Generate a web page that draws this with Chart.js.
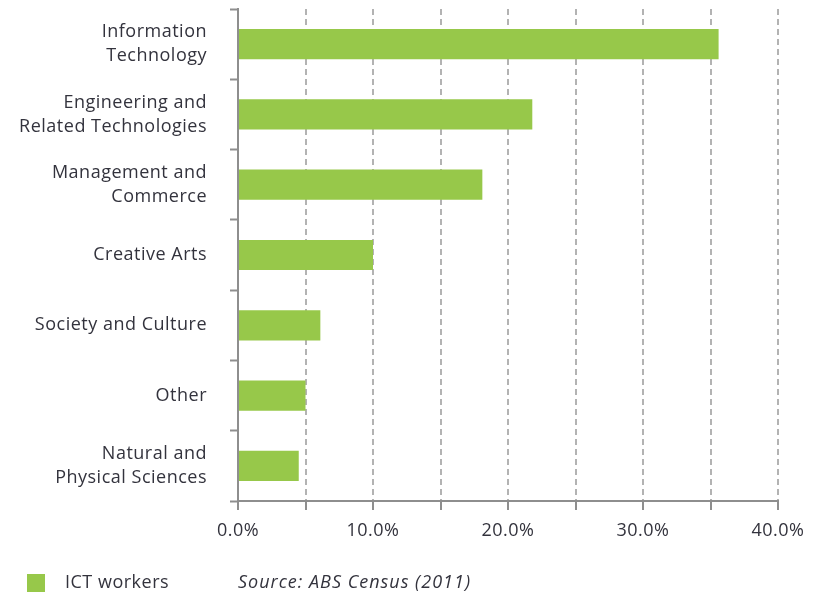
<!DOCTYPE html>
<html>
<head>
<meta charset="utf-8">
<script src="https://cdn.jsdelivr.net/npm/chart.js@4/dist/chart.umd.min.js"></script>
<style>
  html, body { margin: 0; padding: 0; background: #fff; }
  #wrap { width: 826px; height: 596px; position: relative; }
</style>
</head>
<body>
<div id="wrap"><canvas id="ictChart"></canvas></div>
<script>
// fields of study, top to bottom
let fields = [
    ['Information', 'Technology'],
    ['Engineering and', 'Related Technologies'],
    ['Management and', 'Commerce'],
    'Creative Arts',
    'Society and Culture',
    'Other',
    ['Natural and', 'Physical Sciences']
]
// share of ICT workers (%)
let ictShare = [35.6, 21.8, 18.1, 10.0, 6.1, 5.0, 4.5]
let seriesName = 'ICT workers'
let sourceNote = 'Source: ABS Census (2011)'
let xMax = 40

const barGreen = '#97c84a'
const textCol = '#33333d'
const axisCol = '#8e8e8e'
const gridCol = '#b3b3b3'
const fontFam = '"Open Sans", "Noto Sans", sans-serif'

// slightly looser text, reset every draw since resizing clears the context
const spacingPlugin = {
    id: 'spacing',
    beforeDraw(chart) {
        chart.ctx.letterSpacing = '0.5px'
    }
}

// legend + source line under the axis
const footerPlugin = {
    id: 'footer',
    afterDraw(chart) {
        const ctx = chart.ctx
        const y = 583
        ctx.save()
        ctx.fillStyle = barGreen
        ctx.fillRect(27, y - 9, 18, 18)
        ctx.fillStyle = textCol
        ctx.textBaseline = 'middle'
        ctx.textAlign = 'left'
        ctx.font = '18px ' + fontFam
        ctx.letterSpacing = '0.5px'
        ctx.fillText(seriesName, 65, y)
        ctx.font = 'italic 18px ' + fontFam
        ctx.letterSpacing = '1px'
        ctx.fillText(sourceNote, chart.chartArea.left, y)
        ctx.restore()
    }
}

new Chart(document.getElementById('ictChart').getContext('2d'), {
    type: 'bar',
    data: {
        labels: fields,
        datasets: [{
            label: seriesName,
            data: ictShare,
            backgroundColor: barGreen,
            borderWidth: 0,
            categoryPercentage: 1,
            barPercentage: 0.43
        }]
    },
    options: {
        indexAxis: 'y',
        responsive: true,
        maintainAspectRatio: false,
        animation: false,
        layout: { padding: { left: 0, top: 9, right: 48, bottom: 53 } },
        plugins: {
            legend: { display: false },
            tooltip: { enabled: false }
        },
        scales: {
            x: {
                min: 0,
                max: xMax,
                ticks: {
                    stepSize: 5,
                    autoSkip: false,
                    maxRotation: 0,
                    padding: 10,
                    color: textCol,
                    font: { family: fontFam, size: 18 },
                    callback: v => (v % 10 === 0 ? v.toFixed(1) + '%' : '')
                },
                grid: {
                    color: gridCol,
                    lineWidth: 2,
                    tickColor: axisCol,
                    tickLength: 9,
                    tickWidth: 2,
                    tickBorderDash: []
                },
                border: { color: axisCol, width: 2, dash: [6, 4] },
                afterFit: s => { s.height = 42 }
            },
            y: {
                ticks: {
                    padding: 23,
                    color: textCol,
                    font: { family: fontFam, size: 18, lineHeight: 1.333 }
                },
                grid: {
                    offset: true,
                    drawOnChartArea: false,
                    tickColor: axisCol,
                    tickLength: 8,
                    tickWidth: 2
                },
                border: { color: axisCol, width: 2 },
                afterFit: s => {
                    s.width = 238
                    s.paddingTop = 0
                    s.paddingBottom = 0
                }
            }
        }
    },
    plugins: [spacingPlugin, footerPlugin]
})
</script>
</body>
</html>
